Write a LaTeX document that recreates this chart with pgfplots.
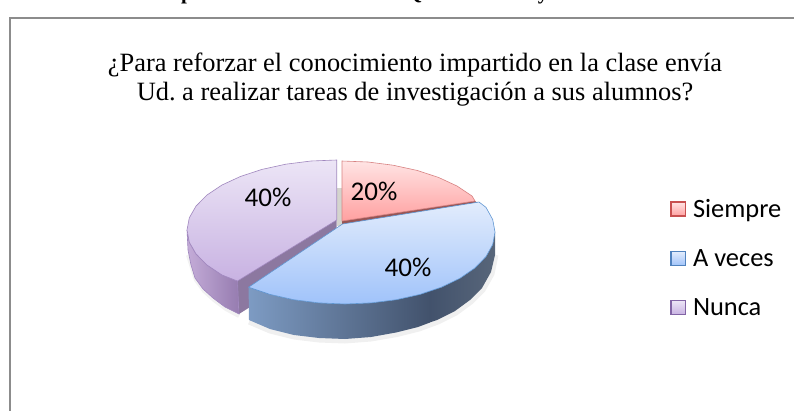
\documentclass[border=0pt]{standalone}
\usepackage{fontspec}
\setmainfont{Liberation Serif}
\newfontfamily\calib{Carlito}
\usepackage{pgfplots}
\pgfplotsset{compat=1.18}
\frenchspacing
\definecolor{frameC}{RGB}{140,140,140}
\definecolor{redT}{RGB}{255,228,228}\definecolor{redB}{RGB}{255,160,160}\definecolor{redE}{RGB}{215,130,130}\definecolor{redD}{RGB}{150,85,85}
\definecolor{bluT}{RGB}{226,236,252}\definecolor{bluB}{RGB}{160,195,250}\definecolor{bluE}{RGB}{95,150,210}
\definecolor{bluS1}{RGB}{125,155,195}\definecolor{bluS2}{RGB}{66,82,108}\definecolor{bluS3}{RGB}{88,102,122}
\definecolor{purT}{RGB}{236,229,246}\definecolor{purB}{RGB}{200,178,226}\definecolor{purE}{RGB}{160,135,190}
\definecolor{purS1}{RGB}{196,172,216}\definecolor{purS2}{RGB}{150,124,176}\definecolor{purD}{RGB}{140,120,160}
\begin{document}
\begin{tikzpicture}
\useasboundingbox (0,0) rectangle (794pt,410pt);
\clip (0,0) rectangle (794pt,410pt);
\begin{axis}[
  at={(0,0)},anchor=south west,
  scale only axis,width=794pt,height=410pt,
  xmin=0,xmax=794,ymin=0,ymax=410,y dir=reverse,
  hide axis,clip=true,
  legend style={at={(axis cs:670,197)},anchor=north west,draw=none,fill=none,
    font=\calib\fontsize{26.4}{28}\selectfont,row sep=26.5pt,inner sep=0pt,
    /tikz/every even column/.append style={column sep=0pt},
    cells={anchor=west}},
  legend image code/.code={\path[#1,line width=1.3pt] (0pt,-7pt) rectangle (14.5pt,7pt);},
]
% frame
\addplot[frameC,line width=2pt,forget plot] coordinates {(9.5,415) (9.5,17.5) (800,17.5)};
% shadow
\addplot[black,opacity=0.06,line width=5pt,forget plot] coordinates {(496,255) (492,274) (483,290) (471,302) (456,313) (438,322) (419,329) (397,334.5) (371,339) (345,341) (319,340) (294,337) (270,331) (249,322)};
\addplot[black,opacity=0.05,line width=4pt,forget plot] coordinates {(188,255) (192,268) (196,280) (204,291) (214,300) (226,309) (239,316)};
% gray strip behind
\addplot[fill={rgb,255:red,212;green,212;blue,206},draw=none,forget plot] coordinates {(336.5,188) (342.5,188) (342.5,226) (336.5,226)} --cycle;
% purple slice: inner face, outer side, top
\addplot[fill=purD,draw=none,forget plot] coordinates {(336.7,220) (237,281) (239,314) (336.7,252)} --cycle;
\addplot[left color=purS1,right color=purS2,draw=purE,line width=0.6pt,forget plot] coordinates {(187,230) (188,250) (191,265) (195,278) (203,289) (213,298) (225,307) (239,314) (237.5,281) (222,275) (207,265) (196,253.9) (189.3,242.2)} --cycle;
\addplot[top color=purT,bottom color=purB,draw=purE,line width=0.6pt,forget plot] coordinates {(336.7,220) (237.5,281) (222,275) (207,265) (196,253.9) (189.3,242.2) (187,230) (189.3,217.8) (196,206.1) (207,195) (222,185) (240.6,176.4) (262,169.4) (285.7,164.2) (311,161) (336.7,160)} --cycle;
% red slice
\addplot[fill=redD,draw=none,forget plot] coordinates {(342,220) (475,201) (479,204) (342,226)} --cycle;
\addplot[top color=redT,bottom color=redB,draw=redE,line width=0.6pt,forget plot] coordinates {(342,221) (475,201) (472,196) (457,186) (438.5,177.4) (417,170.4) (393,165.2) (368,162) (342,161)} --cycle;
% blue slice: outer side in two shaded parts, top
\addplot[left color=bluS1,right color=bluS2,draw=none,forget plot] coordinates {(248.6,287.2) (249,320) (270,329) (294,335) (319,338) (345,339) (371,337) (396,332.5) (418,327) (430,322.5) (430,291) (420,294.4) (396.3,299.7) (371,302.9) (345,304) (319,302.9) (293.7,299.7) (270,294.4)} --cycle;
\addplot[left color=bluS2,right color=bluS3,draw=none,forget plot] coordinates {(429.5,291) (429.5,322.5) (437,320) (455,311) (470,300) (482,288) (491,272) (495,255) (495,232) (492.7,244.5) (486,256.6) (474.9,268) (459.9,278.3) (441.4,287.2)} --cycle;
\addplot[top color=bluT,bottom color=bluB,draw=bluE,line width=0.6pt,forget plot] coordinates {(342.5,224) (479,202) (486,207.4) (492.7,219.5) (495,232) (492.7,244.5) (486,256.6) (474.9,268) (459.9,278.3) (441.4,287.2) (420,294.4) (396.3,299.7) (371,302.9) (345,304) (319,302.9) (293.7,299.7) (270,294.4) (248.6,287.2)} --cycle;
% legend
\addlegendimage{draw={rgb,255:red,200;green,80;blue,80},top color=redT,bottom color=redB}
\addlegendentry{\hspace{5pt}Siempre}
\addlegendimage{draw={rgb,255:red,80;green,130;blue,190},top color=bluT,bottom color=bluB}
\addlegendentry{\hspace{5pt}A veces}
\addlegendimage{draw={rgb,255:red,130;green,100;blue,165},top color=purT,bottom color=purB}
\addlegendentry{\hspace{5pt}Nunca}
% texts
\node[anchor=base,font=\fontsize{26.4}{28}\selectfont] at (axis cs:415,71.5) {¿Para reforzar el conocimiento impartido en la clase envía};
\node[anchor=base,font=\fontsize{26.4}{28}\selectfont] at (axis cs:415,100) {Ud. a realizar tareas de investigación a sus alumnos?};
\node[anchor=center,font=\calib\fontsize{27}{29}\selectfont] at (axis cs:374,191) {20\%};
\node[anchor=center,font=\calib\fontsize{27}{29}\selectfont] at (axis cs:268,197) {40\%};
\node[anchor=center,font=\calib\fontsize{27}{29}\selectfont] at (axis cs:408,267) {40\%};
% cut-off line of text above the frame
\node[anchor=base,font=\bfseries\fontsize{21}{23}\selectfont] at (axis cs:187,-0.5) {p};
\node[anchor=base,font=\bfseries\fontsize{21}{23}\selectfont] at (axis cs:414,-0.5) {Q};
\node[anchor=base,font=\bfseries\fontsize{21}{23}\selectfont] at (axis cs:543,-0.5) {y};
\end{axis}
\end{tikzpicture}
\end{document}
